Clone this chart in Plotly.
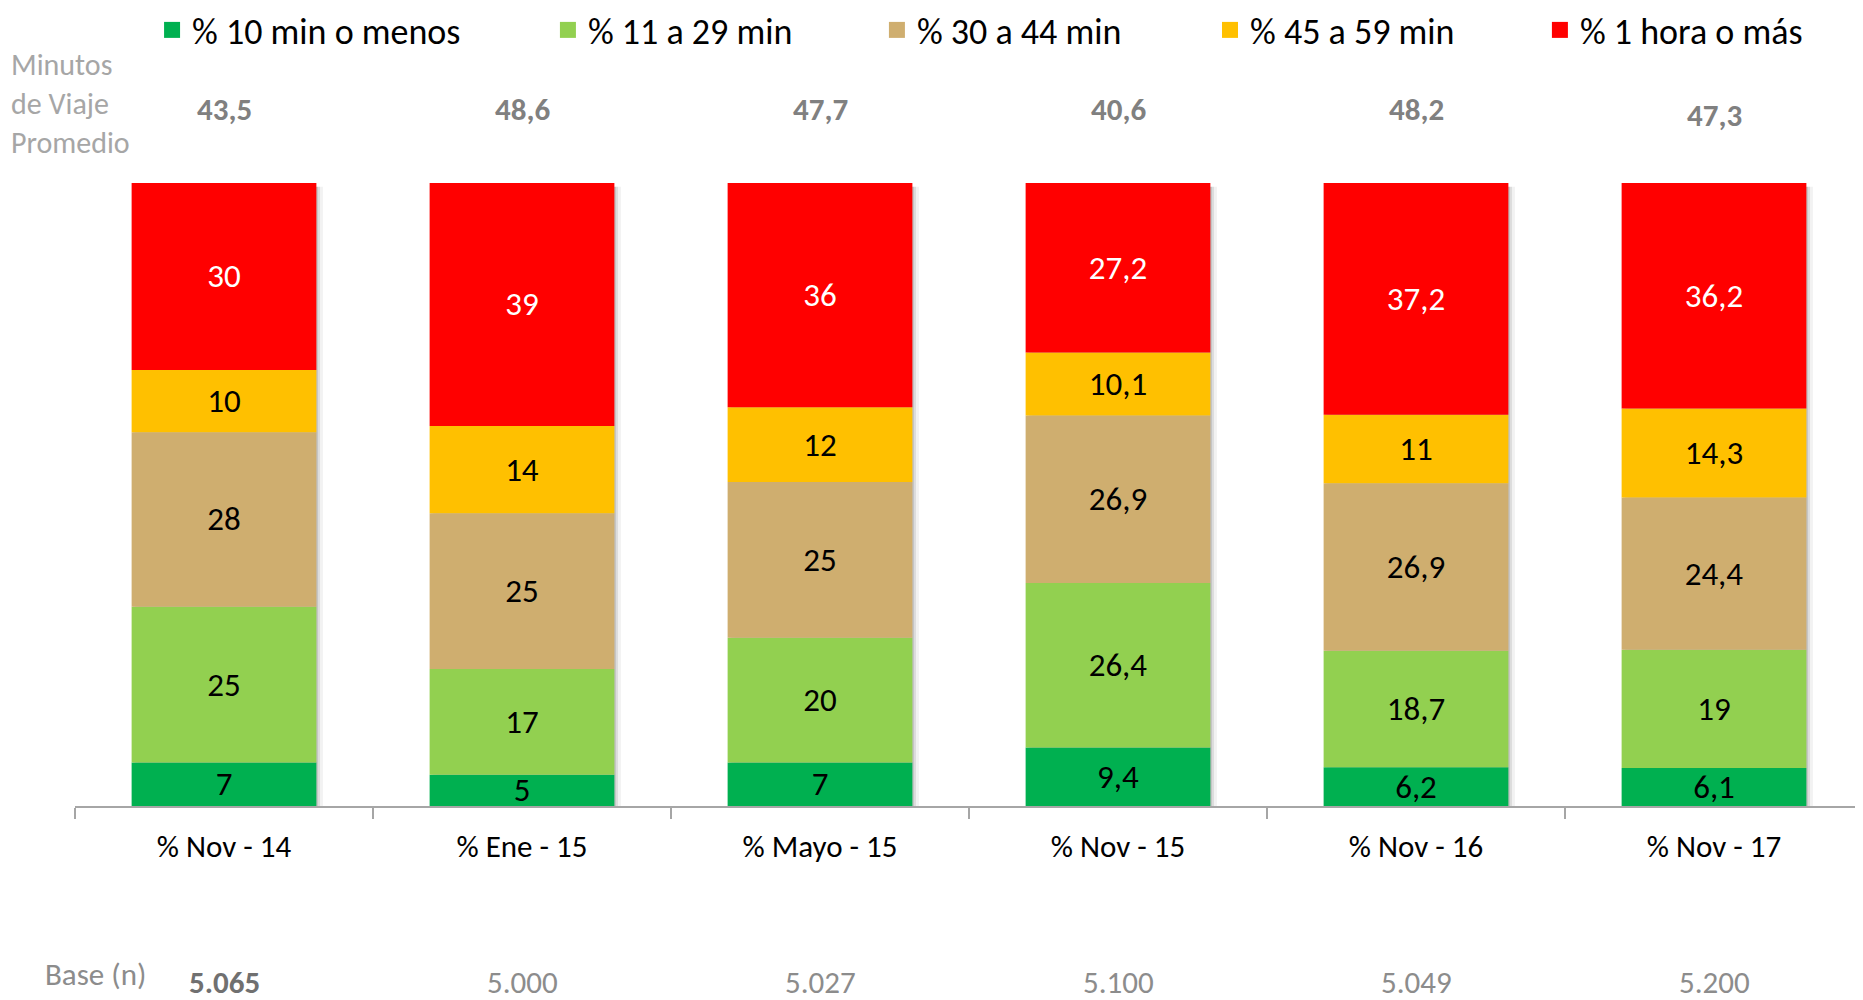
import plotly.graph_objects as go

# data
periodos = ['% Nov - 14', '% Ene - 15', '% Mayo - 15', '% Nov - 15', '% Nov - 16', '% Nov - 17']
min_10_o_menos = [7, 5, 7, 9.4, 6.2, 6.1]
min_11_a_29 = [25, 17, 20, 26.4, 18.7, 19]
min_30_a_44 = [28, 25, 25, 26.9, 26.9, 24.4]
min_45_a_59 = [10, 14, 12, 10.1, 11, 14.3]
hora_o_mas = [30, 39, 36, 27.2, 37.2, 36.2]
minutos_promedio = [43.5, 48.6, 47.7, 40.6, 48.2, 47.3]
base_n = [5065, 5000, 5027, 5100, 5049, 5200]

series = [
    ('% 10 min o menos', min_10_o_menos, '#00B050', 'black'),
    ('% 11 a 29 min', min_11_a_29, '#92D050', 'black'),
    ('% 30 a 44 min', min_30_a_44, '#CFAE6F', 'black'),
    ('% 45 a 59 min', min_45_a_59, '#FFC000', 'black'),
    ('% 1 hora o más', hora_o_mas, '#FF0000', 'white'),
]

FONT = 'Calibri, Carlito, Lato'
W = 0.62


def coma(v):
    return str(v).replace('.', ',')


def miles(v):
    return f'{v:,}'.replace(',', '.')


fig = go.Figure()

# soft drop shadow behind each column
totales = [sum(s[1][i] for s in series) for i in range(len(periodos))]
for off, alpha in [(0.022, 0.05), (0.012, 0.09), (0.005, 0.12)]:
    fig.add_trace(go.Bar(x=periodos, y=[t - 0.6 for t in totales], base=0,
                         width=W, offset=-W / 2 + off,
                         marker_color=f'rgba(0,0,0,{alpha})', marker_line_width=0,
                         showlegend=False, hoverinfo='skip'))

acum = [0] * len(periodos)
for nombre, vals, color, txtcolor in series:
    fig.add_trace(go.Bar(x=periodos, y=vals, base=list(acum), name=nombre,
                         width=W, marker_color=color, marker_line_width=0,
                         text=[coma(v) for v in vals], textposition='inside',
                         insidetextanchor='middle', textangle=0,
                         textfont=dict(family=FONT, size=33, color=txtcolor),
                         showlegend=False))
    acum = [a + v for a, v in zip(acum, vals)]

# legend entries, each one placed on its own
legend_x = [0.0431, 0.2645, 0.4485, 0.6348, 0.8193]
legends = {}
for k, ((nombre, vals, color, _), lx) in enumerate(zip(series, legend_x)):
    lg = 'legend' if k == 0 else f'legend{k + 1}'
    fig.add_trace(go.Scatter(x=[None], y=[None], mode='markers', name=nombre,
                             marker=dict(symbol='square', size=16, color=color),
                             legend=lg, hoverinfo='skip'))
    legends[lg] = dict(orientation='h', x=lx, xanchor='left', y=1.2456, yanchor='middle',
                       font=dict(family=FONT, size=36, color='black'),
                       bgcolor='rgba(0,0,0,0)', borderwidth=0, itemsizing='trace')

fig.update_layout(
    width=1855, height=992,
    margin=dict(l=67, r=0, t=175, b=194, autoexpand=False),
    barmode='overlay',
    plot_bgcolor='white', paper_bgcolor='white',
    uniformtext=dict(minsize=33, mode='show'),
    **legends,
)

fig.update_xaxes(showline=True, linecolor='#a6a6a6', linewidth=2,
                 ticks='outside', tickson='boundaries', ticklen=11, tickcolor='#a6a6a6', tickwidth=2,
                 ticklabelstandoff=12,
                 tickfont=dict(family=FONT, size=31, color='black'),
                 showgrid=False, zeroline=False)
fig.update_yaxes(visible=False, range=[0, 100])

# average travel minutes above the columns
fig.add_annotation(text='Minutos<br>de Viaje<br>Promedio', xref='paper', yref='paper',
                   x=-0.0367, y=1.127, xanchor='left', yanchor='middle', align='left', showarrow=False,
                   font=dict(family=FONT, size=30, color='#a6a6a6'))
for i, (p, m) in enumerate(zip(periodos, minutos_promedio)):
    fig.add_annotation(text=f'<b>{coma(m)}</b>', x=p, xref='x', y=1.119, yref='paper',
                       yanchor='middle', showarrow=False, yshift=-6 if i == 5 else 0,
                       font=dict(family=FONT, size=31, color='#808080'))

# sample sizes
fig.add_annotation(text='Base (n)', xref='paper', yref='paper', x=-0.0179, y=-0.2697,
                   xanchor='left', yanchor='middle', showarrow=False,
                   font=dict(family=FONT, size=31, color='#8c8c8c'))
for i, (p, n) in enumerate(zip(periodos, base_n)):
    txt = f'<b>{miles(n)}</b>' if i == 0 else miles(n)
    fig.add_annotation(text=txt, x=p, xref='x', y=-0.2825, yref='paper', yanchor='middle',
                       showarrow=False,
                       font=dict(family=FONT, size=31, color='#707070' if i == 0 else '#8c8c8c'))

fig.write_html("out.html")
